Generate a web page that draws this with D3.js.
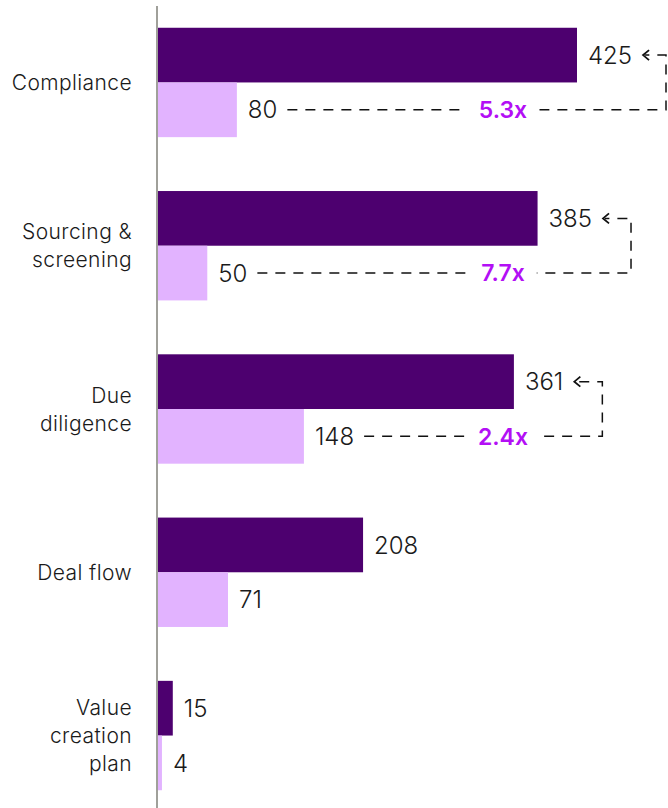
<!DOCTYPE html>
<html>
<head>
<meta charset="utf-8">
<script src="https://cdn.jsdelivr.net/npm/d3@7"></script>
<style>
  body { margin: 0; background: #fff; }
  text { font-family: Inter, "Noto Sans", sans-serif; }
</style>
</head>
<body>
<div id="chart"></div>
<script>
const WIDTH = 668
const HEIGHT = 808

const categories = [["Compliance"], ["Sourcing &", "screening"], ["Due", "diligence"], ["Deal flow"], ["Value", "creation", "plan"]]
const darkValues = [425, 385, 361, 208, 15]
const lightValues = [80, 50, 148, 71, 4]
const multipliers = ["5.3x", "7.7x", "2.4x", null, null]

const DARK = "#4d006f"
const LIGHT = "#e2b3ff"
const ACCENT = "#b30ff5"

const svg = d3.select("#chart")
  .append("svg")
  .attr("width", WIDTH)
  .attr("height", HEIGHT)

const x = d3.scaleLinear().domain([0, 425]).range([158, 577])
const y = d3.scaleBand().domain(d3.range(categories.length)).range([0, 818]).paddingInner(0.33).paddingOuter(0.17)

const groups = svg.append("g")
  .selectAll("g")
  .data(categories.map((c, i) => ({ c, i, dark: darkValues[i], light: lightValues[i], mult: multipliers[i] })))
  .join("g")
  .attr("transform", d => `translate(0,${y(d.i)})`)

const bh = y.bandwidth() / 2

groups.append("rect")
  .attr("x", x(0)).attr("y", 0)
  .attr("width", d => x(d.dark) - x(0))
  .attr("height", bh)
  .attr("fill", DARK)

groups.append("rect")
  .attr("x", x(0)).attr("y", bh)
  .attr("width", d => x(d.light) - x(0))
  .attr("height", bh)
  .attr("fill", LIGHT)

const darkLabel = groups.append("text")
  .attr("x", d => x(d.dark) + 11)
  .attr("y", bh / 2)
  .attr("dy", "0.36em")
  .attr("font-size", 24)
  .attr("font-weight", 300)
  .attr("fill", "#1a1a1a")
  .text(d => d.dark)

const lightLabel = groups.append("text")
  .attr("x", d => x(d.light) + 11)
  .attr("y", bh * 1.5)
  .attr("dy", "0.36em")
  .attr("font-size", 24)
  .attr("font-weight", 300)
  .attr("fill", "#1a1a1a")
  .text(d => d.light)

// category labels
groups.append("text")
  .attr("text-anchor", "end")
  .attr("font-size", 21)
  .attr("font-weight", 300)
  .attr("letter-spacing", 0.4)
  .attr("fill", "#1a1a1a")
  .each(function(d) {
    const n = d.c.length
    d3.select(this).selectAll("tspan")
      .data(d.c)
      .join("tspan")
      .attr("x", 132)
      .attr("y", (t, j) => bh + (j - (n - 1) / 2) * 28)
      .attr("dy", "0.36em")
      .text(t => t)
  })

// dashed connectors with multiplier
groups.filter(d => d.mult).each(function(d) {
  const g = d3.select(this)
  const darkEnd = x(d.dark) + 11 + darkLabel.filter(e => e.i === d.i).node().getComputedTextLength()
  const lightEnd = x(d.light) + 11 + lightLabel.filter(e => e.i === d.i).node().getComputedTextLength()
  const tip = darkEnd + 11
  const corner = Math.min(tip + 28, WIDTH - 2)
  const y1 = bh / 2, y2 = bh * 1.5

  g.append("path")
    .attr("d", `M${lightEnd + 10},${y2}H${corner}V${y1}H${tip + 2}`)
    .attr("fill", "none")
    .attr("stroke", "#111")
    .attr("stroke-width", 1.5)
    .attr("stroke-dasharray", "10,8")

  g.append("path")
    .attr("d", `M${tip + 6},${y1 - 5}L${tip},${y1}L${tip + 6},${y1 + 5}`)
    .attr("fill", "none")
    .attr("stroke", "#111")
    .attr("stroke-width", 1.8)

  const mt = g.append("text")
    .attr("x", 503)
    .attr("y", y2)
    .attr("dy", "0.36em")
    .attr("text-anchor", "middle")
    .attr("font-size", 23)
    .attr("font-weight", 600)
    .attr("fill", ACCENT)
    .text(d.mult)
  const bb = mt.node().getBBox()
  g.insert("rect", "text:last-of-type")
    .attr("x", bb.x - 12).attr("y", y2 - 5)
    .attr("width", bb.width + 24).attr("height", 10)
    .attr("fill", "#fff")
})

// axis line
svg.append("line")
  .attr("x1", 157).attr("x2", 157)
  .attr("y1", 6).attr("y2", HEIGHT)
  .attr("stroke", "#a0a09a")
  .attr("stroke-width", 2)
</script>
</body>
</html>
